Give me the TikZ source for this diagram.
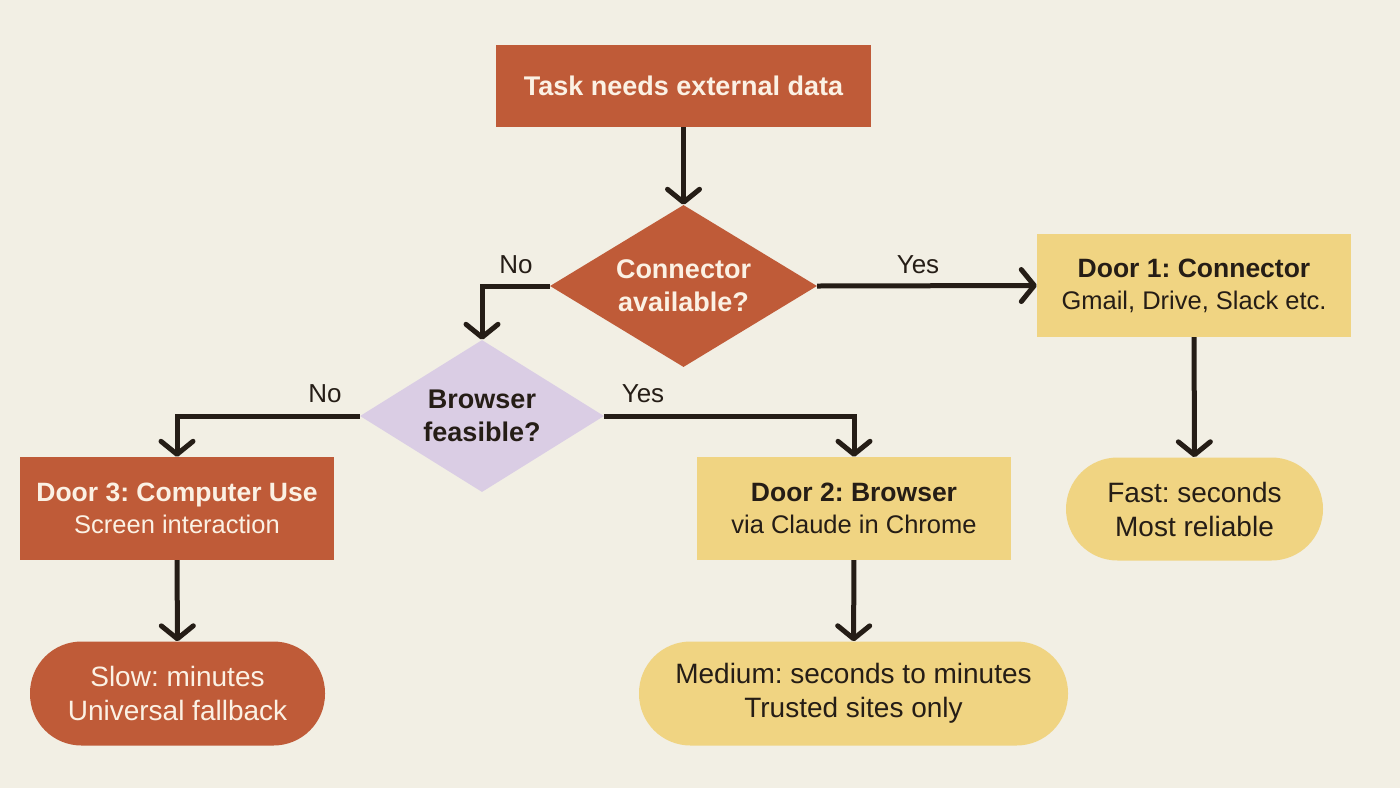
\documentclass[tikz,border=0pt]{standalone}
\usepackage{fontspec}
\setmainfont{Liberation Sans}
\usetikzlibrary{shapes.geometric,arrows.meta}
\definecolor{bg}{HTML}{F2EFE4}
\definecolor{rust}{HTML}{BF5B38}
\definecolor{sand}{HTML}{F0D482}
\definecolor{lav}{HTML}{DACDE4}
\definecolor{ink}{HTML}{251D16}
\definecolor{cream}{HTML}{FBF1E4}
\newcommand{\hd}[1]{{\fontsize{26.5}{32}\selectfont\bfseries #1}}
\tikzset{
  base/.style={inner sep=0pt, align=center, font=\frenchspacing\fontsize{25.5}{32}\selectfont},
  pilltext/.style={font=\frenchspacing\fontsize{28}{34}\selectfont},
  rustbox/.style={base, fill=rust, text=cream},
  sandbox/.style={base, fill=sand, text=ink},
  pill/.style={rounded corners=51.5pt, pilltext},
  dec/.style={base, shape=diamond, inner sep=0pt, font=\frenchspacing\fontsize{27}{33}\selectfont\bfseries},
  arr/.style={draw=ink, line width=5pt, -{Straight Barb[length=13pt, width=32pt, round]}},
  lbl/.style={text=ink, font=\fontsize{26}{30}\selectfont, inner sep=0pt}
}
\begin{document}
\begin{tikzpicture}[x=1pt,y=-1pt]
\fill[bg] (0,0) rectangle (1400,788);
\useasboundingbox (0,0) rectangle (1400,788);

\node[rustbox, minimum width=375pt, minimum height=82pt, font=\frenchspacing\fontsize{27}{32}\selectfont\bfseries] (top) at (683.5,86) {Task needs external data};
\node[dec, fill=rust, text=cream, aspect=1.65, minimum width=267pt, minimum height=162pt] (d1) at (683.5,286) {Connector\\available?};
\node[dec, fill=lav, text=ink, aspect=1.6, minimum width=244pt, minimum height=152pt] (d2) at (482,416) {Browser\\feasible?};

\node[sandbox, minimum width=314pt, minimum height=103pt] (door1) at (1194,285.5) {\hd{Door 1: Connector}\\Gmail, Drive, Slack etc.};
\node[sandbox, pill, minimum width=257pt, minimum height=103pt] (p1) at (1194.5,509) {Fast: seconds\\Most reliable};

\node[sandbox, minimum width=314pt, minimum height=103pt] (door2) at (854,508.5) {\hd{Door 2: Browser}\\via Claude in Chrome};
\node[sandbox, pill, minimum width=429pt, minimum height=104pt] (p2) at (853.5,693.5) {Medium: seconds to minutes\\Trusted sites only};

\node[rustbox, minimum width=314pt, minimum height=103pt] (door3) at (177,508.5) {\hd{Door 3: Computer Use}\\Screen interaction};
\node[rustbox, pill, minimum width=295pt, minimum height=104pt] (p3) at (177.5,693.5) {Slow: minutes\\Universal fallback};

\draw[arr] (top) -- (d1);
\draw[arr] (d1.west) -| (d2.north);
\draw[arr] (d1.east) -- (door1.west);
\draw[arr] (door1) -- (p1);
\draw[arr] (d2.west) -| (door3.north);
\draw[arr] (d2.east) -| (door2.north);
\draw[arr] (door2) -- (p2);
\draw[arr] (door3) -- (p3);

\node[lbl] (l1) at (516,265) {No};
\node[lbl] (l2) at (918,265) {Yes};
\node[lbl] (l3) at (325,394) {No};
\node[lbl] (l4) at (643,394) {Yes};
\end{tikzpicture}
\end{document}
